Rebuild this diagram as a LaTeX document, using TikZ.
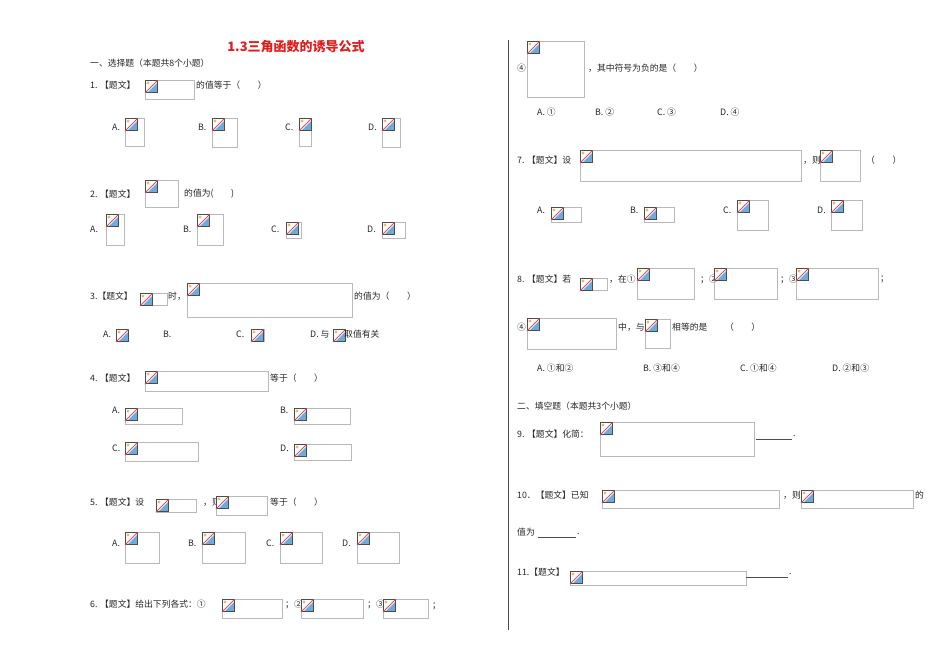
\documentclass[tikz,border=0pt]{standalone}
\usepackage{fontspec}
\newfontfamily\cjk{Noto Sans CJK SC}
\definecolor{boxgray}{RGB}{185,185,185}
\definecolor{iconblue}{RGB}{110,170,220}
\definecolor{iconred}{RGB}{220,80,80}
\definecolor{iconorange}{RGB}{235,180,120}
\definecolor{titlered}{RGB}{225,30,30}
\newcommand{\imgbox}[4]{%
  \draw[boxgray,line width=0.8] (#1,#2) rectangle (#3,#4);
  \begin{scope}[shift={(#1,#2)}]
    \fill[white] (0,0) rectangle (12,12);
    \fill[iconblue] (12,3) -- (12,12) -- (3,12) -- cycle;
    \fill[iconorange] (3,3) circle (1.6);
    \draw[black!70,line width=0.6] (0.5,0.5) rectangle (12,12);
    \draw[iconred,line width=0.9] (0,13) -- (12.5,0.5);
  \end{scope}}
\tikzset{txt/.style={anchor=west,inner sep=0pt,font=\cjk\fontsize{8.8}{10}\selectfont,text=black!85}}
\newcommand{\tx}[3]{\node[txt] at (#1,#2) {#3};}
\begin{document}
\begin{tikzpicture}[x=1pt,y=-1pt]
\useasboundingbox (0,0) rectangle (950,671);
\fill[white] (0,0) rectangle (950,671);
\node[inner sep=0,font=\cjk\bfseries\fontsize{13}{15}\selectfont,text=titlered] (title) at (296,47) {1.3三角函数的诱导公式};
\tx{90}{63}{一、选择题（本题共8个小题）}
% Q1
\tx{90}{85}{1. 【题文】}\imgbox{145}{80}{194}{99}\tx{196}{85}{的值等于（　　）}
\tx{112}{127}{A.}\imgbox{125}{118}{144}{146}
\tx{198}{127}{B.}\imgbox{212}{118}{237}{147}
\tx{285}{127}{C.}\imgbox{299}{118}{311}{146}
\tx{368}{127}{D.}\imgbox{382}{118}{400}{147}
% Q2
\tx{90}{194}{2. 【题文】}\imgbox{145}{180}{178}{207}\tx{184}{194}{的值为(　　)}
\tx{90}{229}{A.}\imgbox{106}{214}{124}{245}
\tx{183}{229}{B.}\imgbox{197}{214}{223}{245}
\tx{271}{229}{C.}\imgbox{286}{222}{301}{238}
\tx{367}{229}{D.}\imgbox{382}{222}{405}{238}
% Q3
\tx{90}{296}{3.【题文】}\imgbox{140}{293}{167}{305}\tx{168}{296}{时，}
\imgbox{187}{283}{352}{317}\tx{354}{296}{的值为（　　）}
\tx{103}{334}{A.}\imgbox{116}{329}{128}{341}
\tx{163}{334}{B.}
\tx{236}{334}{C.}\imgbox{251}{329}{264}{341}
\tx{310}{334}{D. 与}\imgbox{333}{329}{343}{341}\tx{344}{334}{取值有关}
% Q4
\tx{90}{378}{4. 【题文】}\imgbox{145}{371}{268}{391}\tx{270}{378}{等于（　　）}
\tx{112}{410}{A.}\imgbox{125}{408}{182}{424}
\tx{280}{410}{B.}\imgbox{294}{408}{350}{424}
\tx{112}{448}{C.}\imgbox{125}{442}{198}{461}
\tx{280}{448}{D.}\imgbox{294}{444}{351}{460}
% Q5
\tx{90}{502}{5. 【题文】设}\imgbox{156}{499}{196}{512}\tx{203}{502}{，则}
\imgbox{216}{496}{267}{515}\tx{270}{502}{等于（　　）}
\tx{112}{543}{A.}\imgbox{125}{532}{159}{563}
\tx{188}{543}{B.}\imgbox{202}{532}{245}{563}
\tx{266}{543}{C.}\imgbox{280}{532}{322}{563}
\tx{342}{543}{D.}\imgbox{357}{532}{399}{563}
% Q6
\tx{90}{604}{6. 【题文】给出下列各式：①}\imgbox{222}{599}{282}{618}
\tx{285}{604}{；②}\imgbox{301}{599}{363}{618}
\tx{367}{604}{；③}\imgbox{383}{599}{428}{618}\tx{432}{606}{；}
% divider
\draw[black!70,line width=0.8] (508,40) -- (508,630);
% right column
\tx{517}{68}{④}\imgbox{527}{41}{584}{97}\tx{588}{68}{，其中符号为负的是（　　）}
\tx{537}{112}{A. ①}\tx{595}{112}{B. ②}\tx{657}{112}{C. ③}\tx{720}{112}{D. ④}
% Q7
\tx{517}{160}{7. 【题文】设}\imgbox{580}{150}{801}{181}\tx{803}{160}{，则}
\imgbox{820}{150}{860}{181}\tx{866}{160}{（　　）}
\tx{537}{210}{A.}\imgbox{551}{207}{581}{222}
\tx{630}{210}{B.}\imgbox{644}{207}{674}{222}
\tx{723}{210}{C.}\imgbox{737}{200}{768}{230}
\tx{817}{210}{D.}\imgbox{831}{200}{862}{230}
% Q8
\tx{517}{279}{8. 【题文】若}\imgbox{580}{278}{607}{290}\tx{609}{279}{，在①}
\imgbox{637}{268}{694}{299}\tx{700}{279}{；②}
\imgbox{714}{268}{777}{299}\tx{780}{279}{；③}
\imgbox{796}{268}{878}{299}\tx{880}{279}{；}
\tx{517}{327}{④}\imgbox{527}{318}{616}{349}\tx{618}{327}{中，与}
\imgbox{645}{319}{670}{348}\tx{672}{327}{相等的是　　（　　）}
\tx{537}{368}{A. ①和②}\tx{643}{368}{B. ③和④}\tx{740}{368}{C. ①和④}\tx{832}{368}{D. ②和③}
\tx{517}{406}{二、填空题（本题共3个小题）}
% Q9
\tx{517}{434}{9. 【题文】化简：}\imgbox{600}{422}{754}{456}
\draw[black!70,line width=0.6] (756,439) -- (792,439);\tx{793}{436}{.}
% Q10
\tx{517}{495}{10．【题文】已知}\imgbox{602}{490}{779}{508}\tx{783}{495}{，则}
\imgbox{801}{490}{913}{508}\tx{915}{495}{的}
\tx{517}{532}{值为}\draw[black!70,line width=0.6] (538,537) -- (576,537);\tx{577}{534}{.}
% Q11
\tx{517}{572}{11.【题文】}\imgbox{570}{571}{746}{585}
\draw[black!70,line width=0.6] (746,577) -- (788,577);\tx{789}{574}{.}
\end{tikzpicture}
\end{document}
